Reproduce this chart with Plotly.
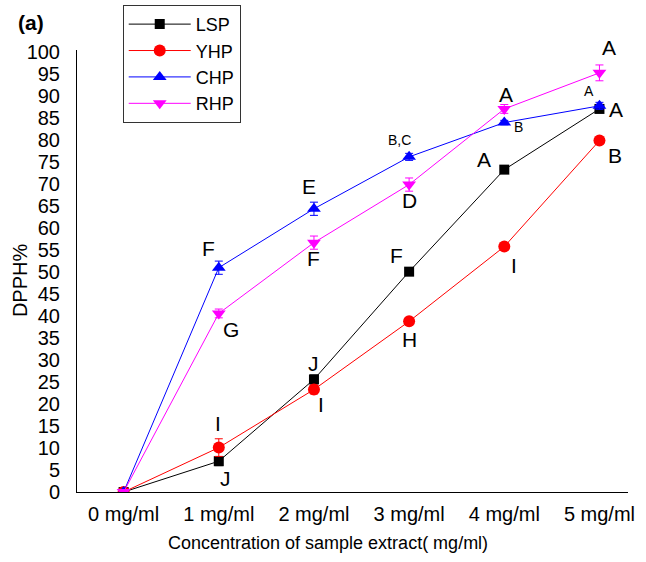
import plotly.graph_objects as go

conc = [0, 1, 2, 3, 4, 5]
tick_labels = ["0 mg/ml", "1 mg/ml", "2 mg/ml", "3 mg/ml", "4 mg/ml", "5 mg/ml"]

lsp = [0, 7.0, 25.6, 50.1, 73.3, 87.1]
yhp = [0, 10.1, 23.3, 38.8, 55.8, 79.9]
chp = [0, 51.0, 64.4, 76.2, 84.0, 87.8]
rhp = [0, 40.6, 56.7, 69.9, 87.1, 95.3]

lsp_err = [0, 1.0, 1.0, 0.5, 0.5, 0.5]
yhp_err = [0, 2.0, 1.0, 0.5, 0.5, 0.5]
chp_err = [0, 1.5, 1.5, 0.8, 0.5, 0.8]
rhp_err = [0, 1.0, 1.5, 1.5, 1.0, 1.8]

lsp_letters = ["", "J", "J", "F", "A", "A"]
yhp_letters = ["", "I", "I", "H", "I", "B"]
chp_letters = ["", "F", "E", "B,C", "B", "A"]
rhp_letters = ["", "G", "F", "D", "A", "A"]

FONT = "Liberation Sans, Arial"

series = [
    ("LSP", lsp, lsp_err, "#000000", "square", 10),
    ("YHP", yhp, yhp_err, "#ff0000", "circle", 12),
    ("CHP", chp, chp_err, "#0000ff", "triangle-up", 12),
    ("RHP", rhp, rhp_err, "#ff00ff", "triangle-down", 12),
]

fig = go.Figure()
for name, vals, err, col, sym, sz in series:
    fig.add_trace(go.Scatter(
        x=conc, y=vals, name=name, mode="lines+markers",
        line=dict(color=col, width=1),
        marker=dict(symbol=sym, size=sz, color=col),
        error_y=dict(type="data", array=err, color=col, thickness=1, width=4),
    ))

# letter annotations: (letters, values, offsets per point (dx, dy), font sizes)
label_specs = [
    (lsp_letters, lsp, [(0, 0), (7, -17), (0, 16), (-13, 16), (-20, 10), (17, -1)], [21] * 6),
    (yhp_letters, yhp, [(0, 0), (-1, 24), (7, -15), (0, -18), (10, -19), (16, -15)], [21] * 6),
    (chp_letters, chp, [(0, 0), (-10, 19), (-5, 22), (-10, 17), (14, -4), (-10, 15)], [21, 21, 21, 14, 14, 14]),
    (rhp_letters, rhp, [(0, 0), (12, -16), (0, -16), (0, -16), (2, 14), (10, 25)], [21] * 6),
]
for letters, vals, offs, sizes in label_specs:
    for xi, yi, t, (dx, dy), fs in zip(conc, vals, letters, offs, sizes):
        if not t:
            continue
        fig.add_annotation(x=xi, y=yi, xref="x", yref="y", text=t, showarrow=False,
                           xshift=dx, yshift=dy,
                           font=dict(family=FONT, size=fs, color="#000000"))

fig.add_annotation(x=-0.110, y=1.063, xref="paper", yref="paper", text="<b>(a)</b>",
                   showarrow=False, xanchor="left", yanchor="middle",
                   font=dict(family=FONT, size=21, color="#000000"))

# axis titles as annotations for precise placement
fig.add_annotation(x=-0.103, y=0.48, xref="paper", yref="paper", text="DPPH%",
                   showarrow=False, textangle=-90, xanchor="center", yanchor="middle",
                   font=dict(family=FONT, size=20, color="#000000"))
fig.add_annotation(x=0.455, y=-0.115, xref="paper", yref="paper",
                   text="Concentration of sample extract( mg/ml)",
                   showarrow=False, xanchor="center", yanchor="middle",
                   font=dict(family=FONT, size=18, color="#000000"))

fig.update_layout(
    width=646, height=562,
    margin=dict(l=77, r=18, t=50, b=70, autoexpand=False),
    paper_bgcolor="white", plot_bgcolor="white",
    font=dict(family=FONT, size=20, color="#000000"),
    showlegend=True,
    legend=dict(x=0.083, y=1.102, xanchor="left", yanchor="top",
                bordercolor="#333333", borderwidth=1, bgcolor="rgba(255,255,255,0)",
                font=dict(size=18), tracegroupgap=0, itemwidth=62),
    xaxis=dict(range=[-0.49, 5.3], tickvals=conc, ticktext=tick_labels,
               showgrid=False, zeroline=False, showline=True, linecolor="#000000",
               linewidth=1, ticks="", tickfont=dict(size=20), ticklabelstandoff=4),
    yaxis=dict(range=[0, 100.5], tickvals=list(range(0, 101, 5)),
               showgrid=False, zeroline=False, showline=True, linecolor="#000000",
               linewidth=1, ticks="", tickfont=dict(size=20), ticklabelstandoff=12),
)

fig.write_html("out.html")
